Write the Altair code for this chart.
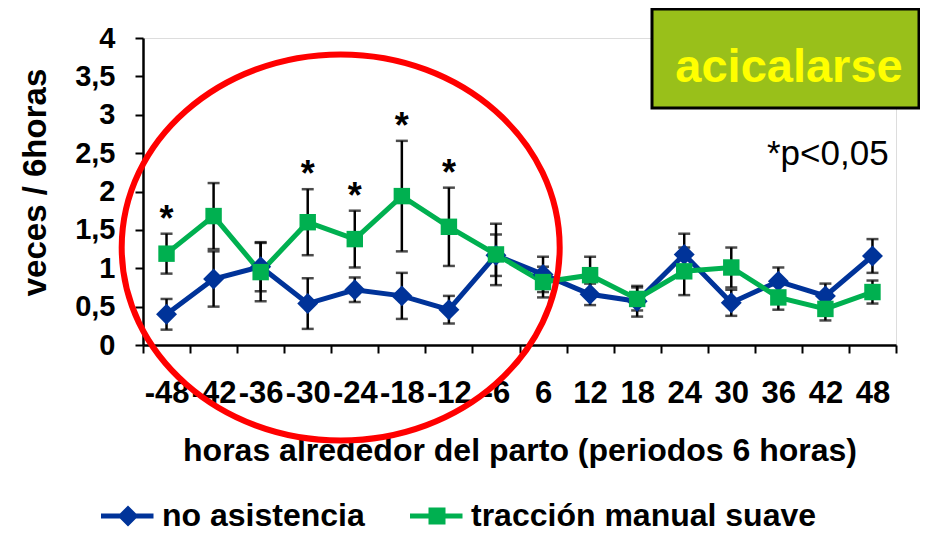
import json
import altair as alt
import pandas as pd

horas = ["-48", "-42", "-36", "-30", "-24", "-18", "-12", "-6",
         "6", "12", "18", "24", "30", "36", "42", "48"]
no_asistencia = [0.40, 0.86, 1.02, 0.54, 0.72, 0.64, 0.46, 1.17,
                 0.92, 0.66, 0.57, 1.18, 0.55, 0.83, 0.64, 1.16]
no_asistencia_err = [0.20, 0.36, 0.32, 0.33, 0.16, 0.30, 0.18, 0.27,
                     0.23, 0.14, 0.20, 0.27, 0.17, 0.18, 0.16, 0.22]
traccion = [1.19, 1.68, 0.95, 1.60, 1.38, 1.94, 1.54, 1.18,
            0.82, 0.91, 0.60, 0.96, 1.01, 0.62, 0.47, 0.69]
traccion_err = [0.26, 0.43, 0.38, 0.43, 0.37, 0.72, 0.51, 0.40,
                0.20, 0.24, 0.15, 0.31, 0.26, 0.16, 0.15, 0.15]
significativos = ["-48", "-30", "-24", "-18", "-12"]
series = ["no asistencia", "tracción manual suave"]
colores = ["#003399", "#00b050"]
y_ticks = [0, 0.5, 1, 1.5, 2, 2.5, 3, 3.5, 4]

rows = []
for s, vals, errs in ((series[0], no_asistencia, no_asistencia_err),
                      (series[1], traccion, traccion_err)):
    for h, v, e in zip(horas, vals, errs):
        rows.append({"hora": h, "serie": s, "valor": v, "err": e})
df = pd.DataFrame(rows)

FONT = "Liberation Sans"

x_axis = alt.Axis(
    title="horas alrededor del parto (periodos 6 horas)",
    tickBand="extent", labelAngle=0, labelFont=FONT, labelFontSize=31,
    labelFontWeight="bold", labelColor="black", labelBaseline="alphabetic",
    labelPadding=49, labelOverlap=False, labelFlush=False,
    tickSize=8, tickColor="black", tickWidth=2,
    domainColor="black", domainWidth=2.5,
    titleFont=FONT, titleFontSize=32, titleFontWeight="bold", titleColor="black",
    titleY=115, titleBaseline="alphabetic", zindex=0,
)
y_axis = alt.Axis(
    title="veces / 6horas", values=y_ticks,
    labelExpr="replace(format(datum.value, '~g'), '.', ',')",
    labelOverlap=False,
    labelFont=FONT, labelFontSize=29, labelFontWeight="bold", labelColor="black",
    labelPadding=20, tickSize=8, tickColor="black", tickWidth=2,
    domainColor="black", domainWidth=2.5, grid=False,
    titleFont=FONT, titleFontSize=33, titleFontWeight="bold", titleColor="black",
    titleX=-108, titleY=144, titleAngle=270, titleBaseline="middle", zindex=0,
)

X = alt.X("hora:N", sort=horas,
          scale=alt.Scale(type="band", domain=horas, paddingInner=0, paddingOuter=0),
          axis=x_axis)
yscale = alt.Scale(domain=[0, 4], nice=False)


def Y(field):
    return alt.Y(field, scale=yscale, axis=y_axis)


color_scale = alt.Scale(domain=series, range=colores)

base = alt.Chart(df).transform_calculate(
    lo="datum.valor - datum.err", hi="datum.valor + datum.err"
)

err_rule = base.mark_rule(color="black", strokeWidth=2.5).encode(
    x=X, y=Y("lo:Q"), y2="hi:Q")
cap_lo = base.mark_tick(color="black", thickness=2.5, size=12).encode(x=X, y=Y("lo:Q"))
cap_hi = base.mark_tick(color="black", thickness=2.5, size=12).encode(x=X, y=Y("hi:Q"))

lines = base.mark_line(strokeWidth=5).encode(
    x=X, y=Y("valor:Q"),
    color=alt.Color("serie:N", scale=color_scale, legend=None))

pts_blue = base.transform_filter(alt.datum.serie == series[0]).mark_point(
    shape="diamond", filled=True, size=440, opacity=1).encode(
    x=X, y=Y("valor:Q"),
    color=alt.Color("serie:N", scale=color_scale, legend=None))
pts_green = base.transform_filter(alt.datum.serie == series[1]).mark_point(
    shape="square", filled=True, size=270, opacity=1).encode(
    x=X, y=Y("valor:Q"),
    color=alt.Color("serie:N", scale=color_scale, legend=None))

diamond_leg = "M-2.7,-0.25L2.55,-0.25L2.55,0.25L-2.7,0.25Z M0,-1.05L1.05,0L0,1.05L-1.05,0Z"
square_leg = "M-2.7,-0.25L2.55,-0.25L2.55,0.25L-2.7,0.25Z M-0.85,-0.85L0.85,-0.85L0.85,0.85L-0.85,0.85Z"

leg = alt.Legend(
    title=None, orient="none", legendX=-31, legendY=462, direction="horizontal",
    labelFont=FONT, labelFontSize=32, labelFontWeight="bold", labelColor="black",
    labelLimit=600, symbolSize=400, symbolStrokeWidth=0, symbolOpacity=1,
    labelOffset=18, columnPadding=45, padding=0,
)
legend_layer = base.mark_point(filled=True, opacity=0).encode(
    x=X, y=Y("valor:Q"),
    color=alt.Color("serie:N", scale=color_scale, legend=leg),
    shape=alt.Shape("serie:N", scale=alt.Scale(domain=series, range=[diamond_leg, square_leg]),
                    legend=leg))

star_filter = "datum.serie === %s && indexof(%s, datum.hora) >= 0" % (
    json.dumps(series[1]), json.dumps(significativos))
stars = base.transform_filter(star_filter).mark_text(
    text="*", font=FONT, fontSize=36, fontWeight="bold", baseline="alphabetic",
    dy=-3, color="black").encode(x=X, y=Y("hi:Q"))

one = pd.DataFrame({"k": [0]})
ellipse_path = ("M1.1347,0 C1.1347,0.5523 0.6267,1 0,1 C-0.6267,1 -1.1347,0.5523 -1.1347,0 "
                "C-1.1347,-0.5523 -0.6267,-1 0,-1 C0.6267,-1 1.1347,-0.5523 1.1347,0 Z")
ellipse = alt.Chart(one).mark_point(
    shape=ellipse_path, filled=False, stroke="#ff0000", strokeWidth=6, size=148996, opacity=1
).encode(x=alt.value(197.7), y=alt.value(209.5))

box = alt.Chart(one).mark_rect(fill="#99c01a", stroke="black", strokeWidth=3).encode(
    x=alt.value(509), x2=alt.value(776), y=alt.value(-29), y2=alt.value(70))
box_text = alt.Chart(one).mark_text(
    text="acicalarse", font=FONT, fontSize=47, fontWeight="bold", color="#ffff00",
    align="center", baseline="alphabetic").encode(x=alt.value(646), y=alt.value(44))
pval = alt.Chart(one).mark_text(
    text="*p<0,05", font=FONT, fontSize=35, color="black", align="left",
    baseline="alphabetic").encode(x=alt.value(624), y=alt.value(127))

chart = alt.layer(
    err_rule, cap_lo, cap_hi, lines, pts_blue, pts_green, legend_layer, stars,
    ellipse, box, box_text, pval
).resolve_legend(
    color="independent", shape="independent"
).properties(
    width=753, height=307,
    padding={"left": 135, "top": 30, "right": 24, "bottom": 189},
    autosize=alt.AutoSizeParams(type="none"),
).configure_view(stroke=None).configure(background="white")

chart.save("out.html", embed_options={"renderer": "svg", "actions": False})
